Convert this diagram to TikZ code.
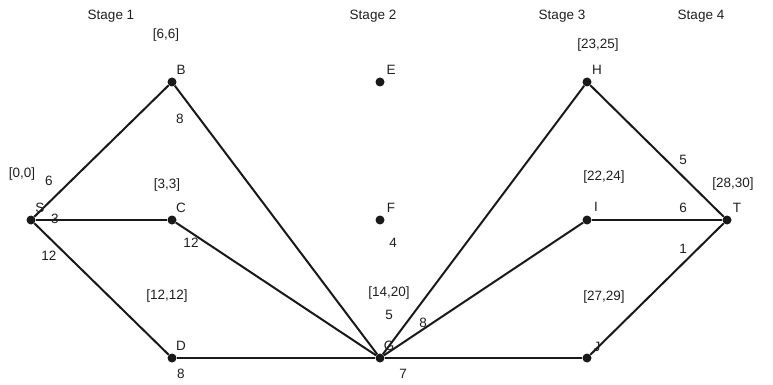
\documentclass[tikz,border=0pt]{standalone}
\usepackage{fontspec}
\setmainfont{Liberation Sans}
\begin{document}
\begin{tikzpicture}[x=1pt,y=-1pt,
  dot/.style={circle,fill=black!90,inner sep=0pt,minimum size=9pt},
  lbl/.style={font=\fontsize{13.5}{15}\selectfont, text=black!88, inner sep=0pt},
  edge/.style={line width=2pt, draw=black!90}]
\useasboundingbox (0,0) rectangle (773,385);
% stage titles
\node[lbl] (st1) at (111,16) {Stage 1};
\node[lbl] (st2) at (373,16) {Stage 2};
\node[lbl] (st3) at (562,16) {Stage 3};
\node[lbl] (st4) at (701,16) {Stage 4};
% vertices
\node[dot] (S) at (31,220) {};
\node[dot] (B) at (172,82) {};
\node[dot] (C) at (172,220) {};
\node[dot] (D) at (172,358) {};
\node[dot] (E) at (380,82) {};
\node[dot] (F) at (380,220) {};
\node[dot] (G) at (380,358) {};
\node[dot] (H) at (587,82) {};
\node[dot] (I) at (587,220) {};
\node[dot] (J) at (587,358) {};
\node[dot] (T) at (727,220) {};
% edges
\draw[edge] (S) -- (B);
\draw[edge] (S) -- (C);
\draw[edge] (S) -- (D);
\draw[edge] (B) -- (G);
\draw[edge] (C) -- (G);
\draw[edge] (D) -- (G);
\draw[edge] (G) -- (H);
\draw[edge] (G) -- (I);
\draw[edge] (G) -- (J);
\draw[edge] (H) -- (T);
\draw[edge] (I) -- (T);
\draw[edge] (J) -- (T);
% vertex letters
\node[lbl] (lS) at (40,208) {S};
\node[lbl] (lB) at (181,70) {B};
\node[lbl] (lC) at (181,208) {C};
\node[lbl] (lD) at (181,346) {D};
\node[lbl] (lE) at (391,70) {E};
\node[lbl] (lF) at (391,208) {F};
\node[lbl] (lG) at (389,346) {G};
\node[lbl] (lH) at (597,70) {H};
\node[lbl] (lI) at (596,207) {I};
\node[lbl] (lJ) at (597,347) {J};
\node[lbl] (lT) at (737,208) {T};
% bracket labels
\node[lbl] (bS) at (22,174) {[0,0]};
\node[lbl] (bB) at (166,35) {[6,6]};
\node[lbl] (bC) at (167,185) {[3,3]};
\node[lbl] (bD) at (167,296) {[12,12]};
\node[lbl] (bG) at (389,293) {[14,20]};
\node[lbl] (bH) at (598,45) {[23,25]};
\node[lbl] (bI) at (604,177) {[22,24]};
\node[lbl] (bJ) at (604,297) {[27,29]};
\node[lbl] (bT) at (733,184) {[28,30]};
% weights
\node[lbl] (wSB) at (49,181) {6};
\node[lbl] (wSC) at (55,219) {3};
\node[lbl] (wSD) at (49,256) {12};
\node[lbl] (wBG) at (180,119) {8};
\node[lbl] (wCG) at (191,243) {12};
\node[lbl] (wDG) at (181,374) {8};
\node[lbl] (wF) at (393,243) {4};
\node[lbl] (wG5) at (389,315) {5};
\node[lbl] (wG8) at (423,323) {8};
\node[lbl] (wG7) at (403,374) {7};
\node[lbl] (wHT) at (683,160) {5};
\node[lbl] (wIT) at (683,208) {6};
\node[lbl] (wJT) at (683,249) {1};
\end{tikzpicture}
\end{document}
